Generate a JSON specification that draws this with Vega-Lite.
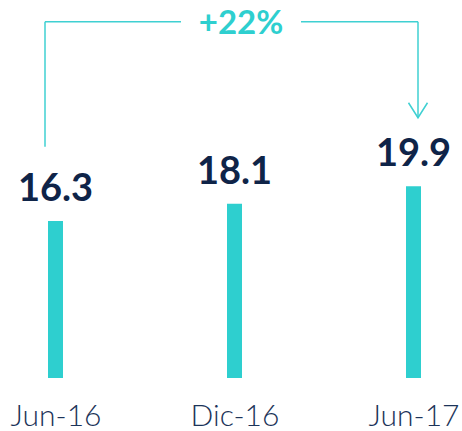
{
  "$schema": "https://vega.github.io/schema/vega-lite/v6.json",
  "width": 462,
  "height": 378,
  "autosize": {"type": "none"},
  "padding": {"top": 0, "left": 0, "right": 0, "bottom": 53},
  "config": {"view": {"stroke": null}},
  "datasets": {
    "bars": [
      {"period": "Jun-16", "value": 16.3},
      {"period": "Dic-16", "value": 18.1},
      {"period": "Jun-17", "value": 19.9}
    ],
    "bracket": [
      {"part": "left", "from": "Jun-16", "to": "Jun-16", "y": 24.0, "y2": 37.0},
      {"part": "topleft", "from": "Jun-16", "to": "Dic-16", "y": 37.0, "y2": 37.0},
      {"part": "topright", "from": "Dic-16", "to": "Jun-17", "y": 37.0, "y2": 37.0},
      {"part": "right", "from": "Jun-17", "to": "Jun-17", "y": 37.0, "y2": 27.0}
    ],
    "change": [
      {"from": "Jun-16", "mid": "Dic-16", "to": "Jun-17", "label": "+22%", "level": 35.7, "tip": 27.8}
    ]
  },
  "layer": [
    {
      "data": {"name": "bars"},
      "mark": {"type": "bar", "width": 15, "color": "#2ecfcf"},
      "encoding": {
        "x": {
          "field": "period", "type": "nominal", "sort": null,
          "scale": {"type": "point", "domain": ["Jun-16", "Dic-16", "Jun-17"], "range": [55.5, 413.5], "padding": 0},
          "axis": {"title": null, "domain": false, "ticks": false, "labelAngle": 0,
                   "labelFont": "Lato", "labelFontSize": 30, "labelFontWeight": 300,
                   "labelColor": "#1c3459", "labelPadding": 23}
        },
        "y": {"field": "value", "type": "quantitative", "scale": {"domain": [0, 39.25], "nice": false, "zero": true}, "axis": null}
      }
    },
    {
      "data": {"name": "bars"},
      "mark": {"type": "text", "dy": -20, "baseline": "alphabetic", "font": "Lato", "fontSize": 38, "fontWeight": "bold", "color": "#0f2448"},
      "encoding": {
        "x": {"field": "period", "type": "nominal", "sort": null},
        "y": {"field": "value", "type": "quantitative"},
        "text": {"field": "value", "type": "quantitative", "format": ".1f"}
      }
    },
    {
      "data": {"name": "bracket"},
      "transform": [{"filter": "datum.part == 'left'"}],
      "mark": {"type": "rule", "color": "#3fd0d2", "strokeWidth": 1.5, "xOffset": -10.5},
      "encoding": {
        "x": {"field": "from", "type": "nominal", "sort": null},
        "y": {"field": "y", "type": "quantitative"},
        "y2": {"field": "y2"}
      }
    },
    {
      "data": {"name": "bracket"},
      "transform": [{"filter": "datum.part == 'topleft'"}],
      "mark": {"type": "rule", "color": "#3fd0d2", "strokeWidth": 1.5, "xOffset": -10.5, "x2Offset": -53.5},
      "encoding": {
        "x": {"field": "from", "type": "nominal", "sort": null},
        "x2": {"field": "to"},
        "y": {"field": "y", "type": "quantitative"}
      }
    },
    {
      "data": {"name": "bracket"},
      "transform": [{"filter": "datum.part == 'topright'"}],
      "mark": {"type": "rule", "color": "#3fd0d2", "strokeWidth": 1.5, "xOffset": 66.5, "x2Offset": 4.5},
      "encoding": {
        "x": {"field": "from", "type": "nominal", "sort": null},
        "x2": {"field": "to"},
        "y": {"field": "y", "type": "quantitative"}
      }
    },
    {
      "data": {"name": "bracket"},
      "transform": [{"filter": "datum.part == 'right'"}],
      "mark": {"type": "rule", "color": "#3fd0d2", "strokeWidth": 1.5, "xOffset": 4.5},
      "encoding": {
        "x": {"field": "from", "type": "nominal", "sort": null},
        "y": {"field": "y", "type": "quantitative"},
        "y2": {"field": "y2"}
      }
    },
    {
      "data": {"name": "change"},
      "mark": {"type": "point", "shape": "M-1,-0.79L0,0.79L1,-0.79", "size": 361, "filled": false, "stroke": "#3fd0d2", "strokeWidth": 1.5, "opacity": 1, "xOffset": 4.5},
      "encoding": {
        "x": {"field": "to", "type": "nominal", "sort": null},
        "y": {"field": "tip", "type": "quantitative"}
      }
    },
    {
      "data": {"name": "change"},
      "mark": {"type": "text", "baseline": "alphabetic", "align": "center", "font": "Lato", "fontSize": 33, "fontWeight": "bold", "color": "#2ecfcf", "xOffset": 6.5},
      "encoding": {
        "x": {"field": "mid", "type": "nominal"},
        "y": {"field": "level", "type": "quantitative"},
        "text": {"field": "label"}
      }
    }
  ]
}
